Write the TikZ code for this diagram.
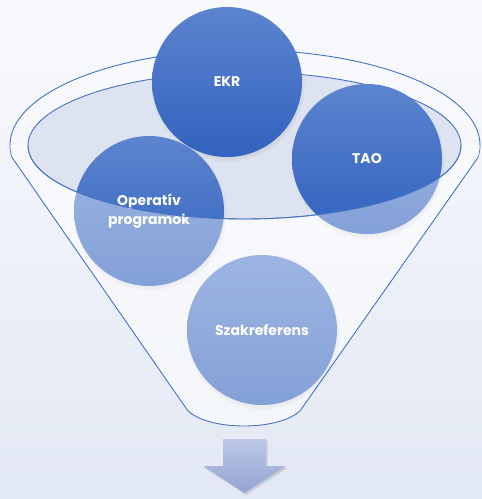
\documentclass[tikz,border=0pt]{standalone}
\usepackage{fontspec}
\setmainfont{Poppins}
\usetikzlibrary{shadows,fadings}
\definecolor{lineblue}{RGB}{68,114,196}
\definecolor{ctop}{RGB}{92,132,207}
\definecolor{cbot}{RGB}{50,98,190}
\definecolor{ellfill}{RGB}{221,227,240}
\definecolor{bgtop}{RGB}{249,250,253}
\definecolor{bgbot}{RGB}{226,232,244}
\definecolor{atop}{RGB}{188,199,230}
\definecolor{abot}{RGB}{148,164,210}
\begin{document}
\begin{tikzpicture}[x=1pt,y=-1pt,
  ball/.style={circle, minimum size=150pt, inner sep=0pt, top color=ctop, bottom color=cbot,
    text=white, font=\bfseries\fontsize{14}{19}\selectfont, align=center,
    circular drop shadow={shadow xshift=1pt, shadow yshift=-3pt, shadow scale=1.03, opacity=0.35}},
  fline/.style={draw=lineblue, line width=0.9pt},
]
\useasboundingbox (0,0) rectangle (482,499);
\shade[top color=bgtop,bottom color=bgbot] (0,0) rectangle (482,499);
% back of funnel
\path[fill=white, fill opacity=0.25]
  plot[domain=172.5:367.5, samples=90] ({245+235*cos(\x)},{145+95*sin(\x)})
  -- (300,411) .. controls (278,431) and (210,431) .. (188,411) -- cycle;
\draw[fline] plot[domain=172.5:367.5, samples=90] ({245+235*cos(\x)},{145+95*sin(\x)});
\draw[fline, fill=ellfill] (244.5,145.5) ellipse [x radius=216.5, y radius=73.5];
% circles
\node[ball] (ekr) at (227,82) {EKR};
\node[ball] (tao) at (367,159) {TAO};
\node[ball] (op) at (149,211) {Operatív\\programok};
\node[ball] (szak) at (262,330) {Szakreferens};
% front of funnel
\path[fill=white, fill opacity=0.4]
  (12,157.4) -- (188,411) .. controls (210,431) and (278,431) .. (300,411) -- (478,157.4)
  -- plot[domain=7.5:0, samples=10] ({245+235*cos(\x)},{145+95*sin(\x)})
  -- plot[domain=0:180, samples=90] ({244.5+216.5*cos(\x)},{145.5+73.5*sin(\x)})
  -- plot[domain=180:172.5, samples=10] ({245+235*cos(\x)},{145+95*sin(\x)}) -- cycle;
\draw[fline] (12,157.4) -- (188,411) .. controls (210,431) and (278,431) .. (300,411) -- (478,157.4);
\draw[fline] plot[domain=0:180, samples=90] ({244.5+216.5*cos(\x)},{145.5+73.5*sin(\x)});
% arrow
\path[top color=atop, bottom color=abot,
  drop shadow={shadow xshift=1.5pt, shadow yshift=-2pt, opacity=0.25}]
  (223,439) -- (266,439) -- (266,466) -- (286,466) -- (244.5,493) -- (203,466) -- (223,466) -- cycle;
\end{tikzpicture}
\end{document}
